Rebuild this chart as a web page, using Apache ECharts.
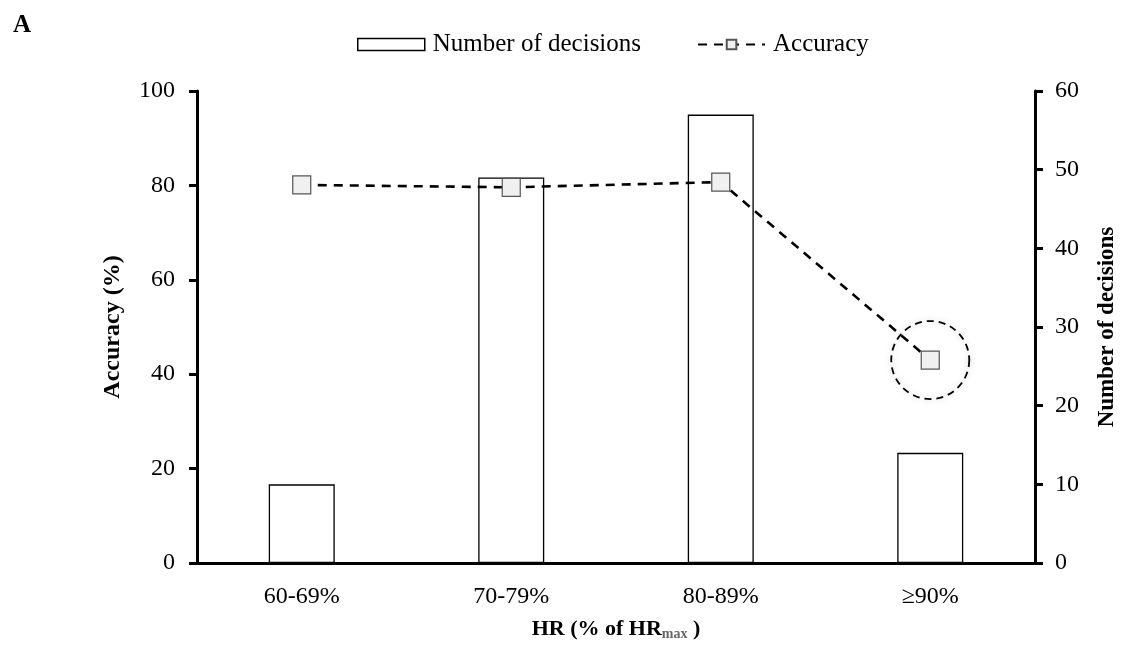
<!DOCTYPE html>
<html>
<head>
<meta charset="utf-8">
<script src="https://cdn.jsdelivr.net/npm/echarts@6/dist/echarts.min.js"></script>
<style>html,body{margin:0;padding:0;background:#fff;}#c{width:1127px;height:655px;}</style>
</head>
<body>
<div id="c"></div>
<script>
const categories = ['60-69%', '70-79%', '80-89%', '\u226590%'];
const decisions = [10, 49, 57, 14];
const accuracy = [80.1, 79.6, 80.7, 43.0];
const accuracyTicks = [0, 100, 20];
const decisionTicks = [0, 60, 10];
const highlightIndex = 3;

const FONT = '"Liberation Serif", "Times New Roman", serif';
const chart = echarts.init(document.getElementById('c'));
chart.setOption({
  backgroundColor: '#fff',
  animation: false,
  textStyle: { fontFamily: FONT, color: '#000' },
  title: {
    text: 'A', left: 8, top: 8,
    textStyle: { fontFamily: FONT, fontWeight: 'bold', fontSize: 25, color: '#000' }
  },
  legend: {
    left: 352, top: 27,
    itemWidth: 67, itemHeight: 12, itemGap: 56,
    textStyle: { fontFamily: FONT, fontSize: 25, color: '#000', padding: [0, 0, 0, 3] },
    data: [
      { name: 'Number of decisions', icon: 'rect', itemStyle: { color: '#fff', borderColor: '#000', borderWidth: 1.5 } },
      { name: 'Accuracy' }
    ]
  },
  grid: { left: 197, right: 89, top: 91, bottom: 92 },
  xAxis: {
    type: 'category',
    data: categories,
    axisLine: { lineStyle: { color: '#000', width: 3 } },
    axisTick: { show: false },
    axisLabel: { fontFamily: FONT, fontSize: 24, color: '#000', margin: 22 },
    name: '{b|HR (% of HR}{s|max}{b| )}',
    nameLocation: 'middle',
    nameGap: 54,
    nameTextStyle: {
      rich: {
        b: { fontFamily: FONT, fontWeight: 'bold', fontSize: 22, color: '#000' },
        s: { fontFamily: FONT, fontWeight: 'bold', fontSize: 14, color: '#666', padding: [10, 0, 0, 0] }
      }
    }
  },
  yAxis: [
    {
      type: 'value', min: accuracyTicks[0], max: accuracyTicks[1], interval: accuracyTicks[2],
      position: 'left',
      axisLine: { show: true, lineStyle: { color: '#000', width: 3 } },
      axisTick: { show: true, length: 8, lineStyle: { color: '#000', width: 3 } },
      splitLine: { show: false },
      axisLabel: { fontFamily: FONT, fontSize: 24, color: '#000', margin: 22 },
      name: 'Accuracy (%)', nameLocation: 'middle', nameGap: 72, nameRotate: 90,
      nameTextStyle: { fontFamily: FONT, fontWeight: 'bold', fontSize: 24, color: '#000' }
    },
    {
      type: 'value', min: decisionTicks[0], max: decisionTicks[1], interval: decisionTicks[2],
      position: 'right',
      axisLine: { show: true, lineStyle: { color: '#000', width: 3 } },
      axisTick: { show: true, length: 8, lineStyle: { color: '#000', width: 3 } },
      splitLine: { show: false },
      axisLabel: { fontFamily: FONT, fontSize: 24, color: '#000', margin: 20 },
      name: 'Number of decisions', nameLocation: 'middle', nameGap: 61, nameRotate: 90,
      nameTextStyle: { fontFamily: FONT, fontWeight: 'bold', fontSize: 23, color: '#000' }
    }
  ],
  series: [
    {
      name: 'Number of decisions',
      type: 'bar',
      yAxisIndex: 1,
      data: decisions,
      barWidth: 66,
      z: 1,
      itemStyle: { color: '#fff', borderColor: '#000', borderWidth: 1.3 }
    },
    {
      name: 'Accuracy',
      type: 'line',
      yAxisIndex: 0,
      data: accuracy,
      z: 3,
      symbol: 'rect',
      symbolSize: 18,
      lineStyle: { color: '#000', width: 2.6, type: [9, 7] },
      itemStyle: { color: '#f0f0f0', borderColor: '#555', borderWidth: 1.2 },
      markPoint: {
        symbol: 'circle',
        symbolSize: 78,
        label: { show: false },
        itemStyle: {
          color: 'rgba(0,0,0,0)', borderColor: '#000', borderWidth: 1.8, borderType: [7, 5],
          shadowBlur: 6, shadowColor: 'rgba(0,0,0,0.25)'
        },
        data: [{ coord: [highlightIndex, accuracy[highlightIndex]] }]
      }
    }
  ]
});
</script>
</body>
</html>
